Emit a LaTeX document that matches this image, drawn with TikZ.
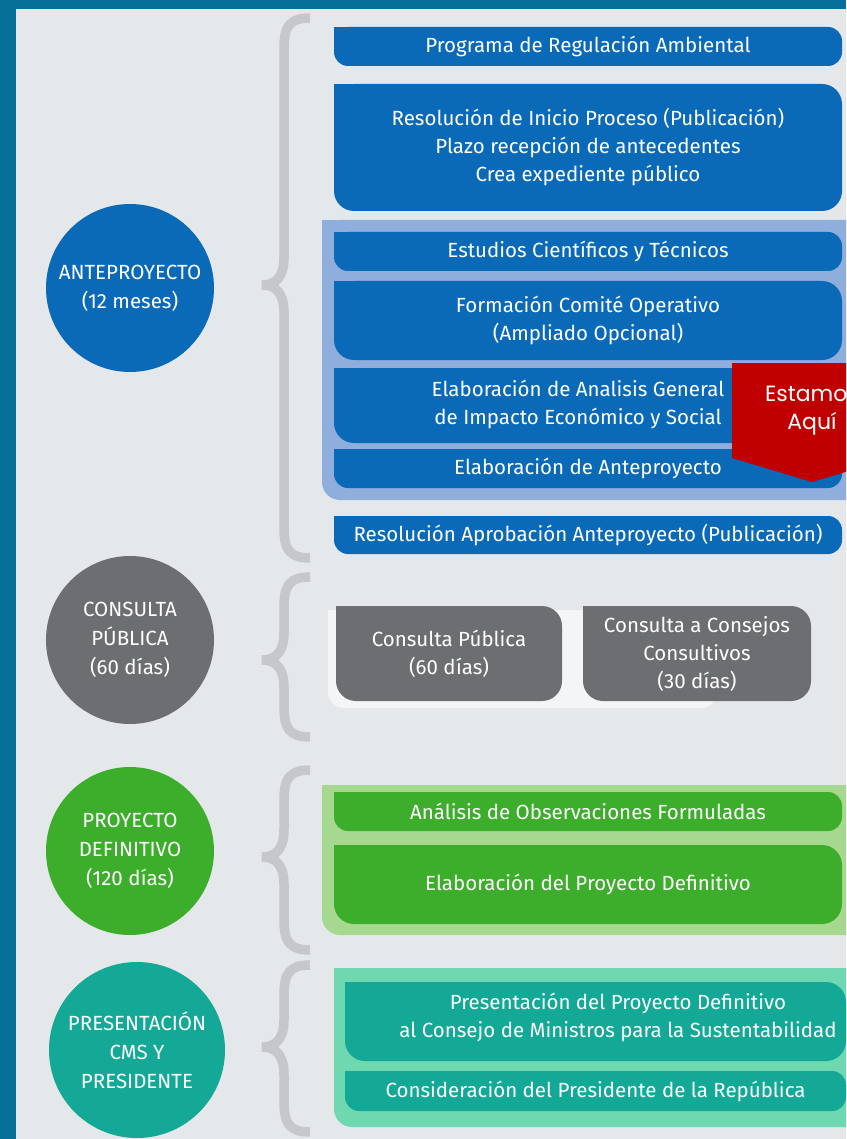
\documentclass[tikz,border=0pt]{standalone}
\usepackage{fontspec}
\setmainfont{Fira Sans}
\newfontfamily\tagfont{Poppins}
\definecolor{frame}{RGB}{6,112,152}
\definecolor{bg}{RGB}{229,232,235}
\definecolor{bblue}{RGB}{10,106,184}
\definecolor{lblue}{RGB}{143,174,220}
\definecolor{dgrey}{RGB}{109,110,113}
\definecolor{lgrey}{RGB}{243,245,247}
\definecolor{bgreen}{RGB}{61,174,43}
\definecolor{lgreen}{RGB}{166,217,143}
\definecolor{bteal}{RGB}{19,169,150}
\definecolor{lteal}{RGB}{111,216,176}
\definecolor{tagred}{RGB}{192,0,0}
\definecolor{brgrey}{RGB}{197,199,202}
\newcommand\sqtl[3]{\fill[#2] (#1.north west) rectangle ++(#3,#3);}
\newcommand\brc[3]{\draw[brstyle] (310,#1) .. controls (290,#1) and (284,{#1+8}) .. (284,{#1+30}) -- (284,{#2-28}) .. controls (284,{#2-8}) and (276,#2) .. (262,#2) .. controls (276,#2) and (284,{#2+8}) .. (284,{#2+28}) -- (284,{#3-30}) .. controls (284,{#3-8}) and (290,#3) .. (310,#3);}
\begin{document}
\begin{tikzpicture}[x=1pt,y=-1pt,
  txt/.style={font=\fontsize{20.5}{28}\selectfont, text=white, align=center, inner sep=0pt},
  bx/.style={txt, rounded corners=14pt, minimum width=508pt, minimum height=#1},
  circ/.style={txt, font=\fontsize{20.5}{29}\selectfont, circle, minimum size=168pt},
  brstyle/.style={draw=brgrey, line width=9.5pt}]
\useasboundingbox (0,0) rectangle (846,1139);
\clip (0,0) rectangle (846,1139);
% frame and background
\fill[frame] (0,0) rectangle (846,1139);
\fill[bg] (16,9) rectangle (860,1150);
% braces
\brc{18}{285}{558}
\brc{577}{660}{737}
\brc{770}{857}{950}
\brc{965}{1047}{1132}
% circles
\node[circ, fill=bblue] (ante) at (130,288) {ANTEPROYECTO\\(12 meses)};
\node[circ, fill=dgrey] (cons) at (130,640) {CONSULTA\\PÚBLICA\\(60 días)};
\node[circ, fill=bgreen] (proy) at (130,851) {PROYECTO\\DEFINITIVO\\(120 días)};
\node[circ, fill=bteal, minimum size=176pt] (pres) at (137,1050) {PRESENTACIÓN\\CMS Y\\PRESIDENTE};
% anteproyecto column
\node[bx=39pt, fill=bblue] (b1) at (588,46.5) {Programa de Regulación Ambiental};
\sqtl{b1}{bblue}{14}
\node[bx=127pt, fill=bblue, rounded corners=20pt] (b2) at (588,147.5) {Resolución de Inicio Proceso (Publicación)\\Plazo recepción de antecedentes\\Crea expediente público};
\sqtl{b2}{bblue}{20}
\fill[lblue, rounded corners=18pt] (322,220) rectangle (870,500);
\fill[lblue] (322,220) rectangle (342,240);
\node[bx=39pt, fill=bblue] (b3) at (588,251.5) {Estudios Científicos y Técnicos};
\sqtl{b3}{bblue}{14}
\node[bx=79pt, fill=bblue, rounded corners=20pt] (b4) at (588,320.5) {Formación Comité Operativo\\(Ampliado Opcional)};
\sqtl{b4}{bblue}{20}
\node[bx=75pt, fill=bblue, rounded corners=20pt] (b5) at (588,405.5) {};
\sqtl{b5}{bblue}{20}
\node[txt] (b5t) at (578,404) {Elaboración de Analisis General\\de Impacto Económico y Social};
\node[bx=39pt, fill=bblue] (b6) at (588,468.5) {Elaboración de Anteproyecto};
\sqtl{b6}{bblue}{14}
\node[bx=38pt, fill=bblue] (b7) at (588,535) {Resolución Aprobación Anteproyecto (Publicación)};
\sqtl{b7}{bblue}{14}
% estamos aqui tag
\fill[tagred] (732,363) -- (892,363) -- (892,458) -- (812,482) -- (732,458) -- cycle;
\node[font=\tagfont\fontsize{22}{28}\selectfont, text=white, align=center, inner sep=0pt] (tag) at (812,411) {Estamos\\Aquí};
% consulta publica
\fill[lgrey, rounded corners=16pt] (328,610) rectangle (717,708);
\fill[lgrey] (328,610) rectangle (344,626);
\node[bx=95pt, minimum width=226pt, fill=dgrey, rounded corners=20pt] (g1) at (449,653.5) {Consulta Pública\\(60 días)};
\sqtl{g1}{dgrey}{20}
\node[bx=95pt, minimum width=228pt, fill=dgrey, rounded corners=20pt] (g2) at (697,653.5) {Consulta a Consejos\\Consultivos\\(30 días)};
\sqtl{g2}{dgrey}{20}
% proyecto definitivo
\fill[lgreen, rounded corners=18pt] (322,785) rectangle (870,935);
\fill[lgreen] (322,785) rectangle (342,805);
\node[bx=39pt, fill=bgreen] (gr1) at (588,811.5) {Análisis de Observaciones Formuladas};
\sqtl{gr1}{bgreen}{14}
\node[bx=79pt, fill=bgreen, rounded corners=20pt] (gr2) at (588,884.5) {Elaboración del Proyecto Definitivo};
\sqtl{gr2}{bgreen}{20}
% presentacion
\fill[lteal, rounded corners=18pt] (334,968) rectangle (870,1127);
\fill[lteal] (334,968) rectangle (354,988);
\node[bx=79pt, minimum width=501pt, fill=bteal, rounded corners=20pt] (t1) at (595.5,1021.5) {};
\sqtl{t1}{bteal}{20}
\node[txt] (t1t) at (618,1017) {Presentación del Proyecto Definitivo\\al Consejo de Ministros para la Sustentabilidad};
\node[bx=40pt, minimum width=501pt, fill=bteal] (t2) at (595.5,1091) {Consideración del Presidente de la República};
\sqtl{t2}{bteal}{14}
\end{tikzpicture}
\end{document}
